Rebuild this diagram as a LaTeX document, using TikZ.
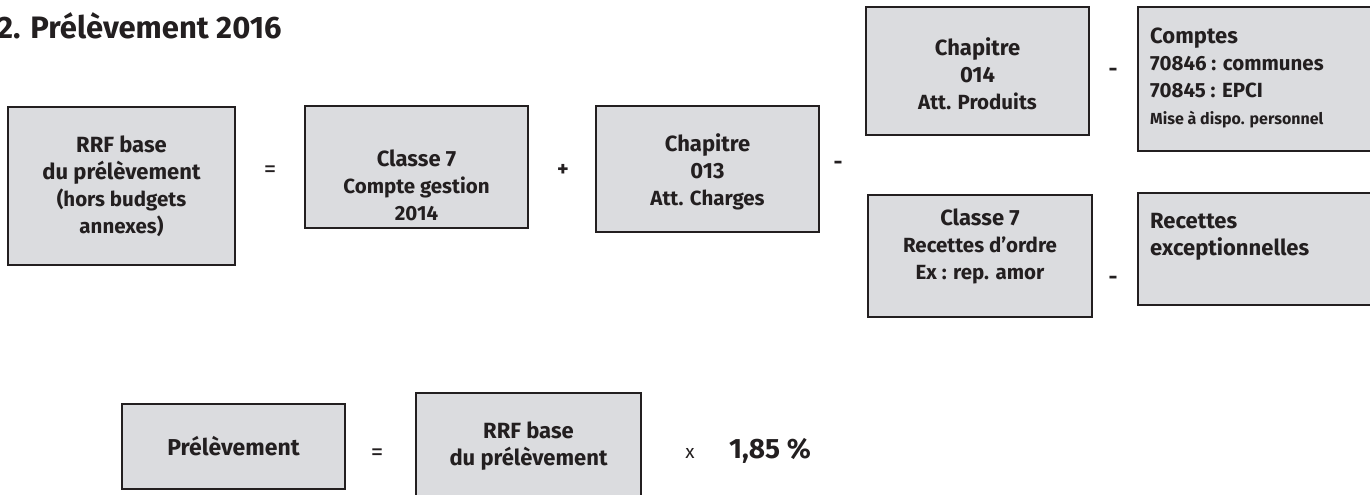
\documentclass[tikz,border=0pt]{standalone}
\usepackage{fontspec}
\setmainfont{Fira Sans}
\usetikzlibrary{positioning}
\definecolor{boxgray}{RGB}{219,220,223}
\definecolor{inkblack}{RGB}{35,31,32}
\newcommand{\bigln}{\fontsize{22}{27}\selectfont}
\newcommand{\smallln}{\fontsize{20.5}{27}\selectfont}
\newcommand{\tinyln}{\fontsize{16}{27}\selectfont}

\begin{document}
\begin{tikzpicture}[
                x=1pt, y=-1pt,
                box/.style={draw=inkblack, fill=boxgray, line width=1.1pt, inner sep=0pt},
                txt/.style={text=inkblack, font=\bfseries\bigln, align=center, inner sep=0pt},
                txtl/.style={txt, align=left, anchor=west},
                op/.style={text=inkblack, font=\fontsize{25}{27}\selectfont, inner sep=0pt},
            ]
                \useasboundingbox (0,0) rectangle (1370,495);
                \clip (0,0) rectangle (1370,495);

                \node[txt, anchor=base west, font=\bfseries\fontsize{31}{34}\selectfont] (title) at (-3,39) {2. Prélèvement 2016};

                \node[box, minimum width=227, minimum height=158] (rrf) at (121.5,186) {};
                \node[box, minimum width=223, minimum height=122] (cg) at (416.5,167) {};
                \node[box, minimum width=223, minimum height=126] (ch13) at (707.5,169) {};
                \node[box, minimum width=223, minimum height=128] (ch14) at (977.5,71) {};
                \node[box, minimum width=262, minimum height=144] (cpt) at (1269,79) {};
                \node[box, minimum width=224, minimum height=122] (ro) at (980,256) {};
                \node[box, minimum width=262, minimum height=112] (rex) at (1269,249) {};

                \node[txt] (rrftxt) at (121.5,186) {RRF base\\du prélèvement\\{\smallln (hors budgets}\\{\smallln annexes)}};
                \node[txt] (cgtxt) at (416.5,185) {Classe 7\\{\smallln Compte gestion}\\{\smallln 2014}};
                \node[txt] (ch13txt) at (707.5,172) {Chapitre\\013\\{\smallln Att. Charges}};
                \node[txt] (ch14txt) at (977.5,74) {Chapitre\\014\\{\smallln Att. Produits}};
                \node[txtl] (cpttxt) at (1150,78) {Comptes\\{\smallln 70846 : communes}\\{\smallln 70845 : EPCI}\\{\tinyln Mise à dispo. personnel}};
                \node[txt] (rotxt) at (980,246) {Classe 7\\{\smallln Recettes d'ordre}\\{\smallln Ex : rep. amor}};
                \node[txtl] (rextxt) at (1150,237) {Recettes\\exceptionnelles};

                % Operators
                \node[op] (eq1) at (270,172) {=};
                \node[op, font=\bfseries\bigln] (plus) at (563,170) {+};
                \node[op, font=\bfseries\bigln] (min1) at (838,165) {-};
                \node[op, font=\bfseries\bigln] (min2) at (1113,72) {-};
                \node[op, font=\bfseries\bigln] (min3) at (1113,280) {-};

                % Result line
                \node[box, minimum width=223, minimum height=85] (prel) at (233.5,446.5) {};
                \node[box, minimum width=225, minimum height=127] (base) at (528.5,456.5) {};
                \node[txt, font=\bfseries\fontsize{23}{27}\selectfont] (preltxt) at (prel.center) {Prélèvement};
                \node[txt] (basetxt) at (528.5,446) {RRF base\\du prélèvement};
                \node[op] (eq2) at (377,455) {=};
                \node[op, font=\fontsize{19}{20}\selectfont] (times) at (690,453) {x};
                \node[txt, anchor=base west, font=\bfseries\fontsize{28}{32}\selectfont] (rate) at (729,458) {1,85 \%};
            \end{tikzpicture}
\end{document}
